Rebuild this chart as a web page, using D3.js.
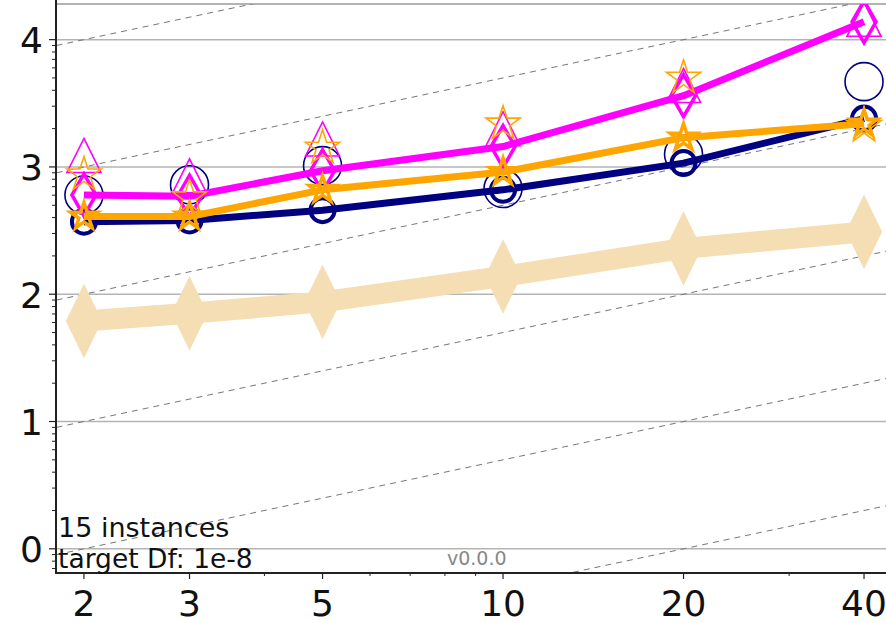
<!DOCTYPE html>
<html>
<head>
<meta charset="UTF-8" />
<script src="https://d3js.org/d3.v7.min.js"></script>
<style>
  body { margin: 0; background: #fff; }
  svg { display: block; font-family: "DejaVu Sans", sans-serif; }
</style>
</head>
<body>
<div id="chart"></div>
<script>
// dimensions on the x axis
const dims = [2, 3, 5, 10, 20, 40];
// log10(ERT / dim)
const navyLine    = [2.57, 2.58, 2.66, 2.82, 3.03, 3.38];
const navyLight   = [2.78, 2.86, 3.01, 2.83, 3.10, 3.67];
const orangeLine  = [2.61, 2.61, 2.82, 2.96, 3.23, 3.34];
const orangeLight = [2.94, 2.76, 3.15, 3.34, 3.70, 3.32];
const pinkLine    = [2.78, 2.77, 2.97, 3.16, 3.56, 4.14];
const pinkLight   = [3.09, 2.93, 3.22, 3.30, 3.64, 4.16];
const best2009    = [1.79, 1.85, 1.94, 2.14, 2.36, 2.49];

const yTicks = [0, 1, 2, 3, 4];
const xTicks = [2, 3, 5, 10, 20, 40];
const xMinor = [4, 6, 7, 8, 9, 30];
const refOffsets = [-1, 0, 1, 2, 3, 4]; // dashed lines ERT ~ dim^2 shifted by decades

const W = 886, H = 623;
const axLeft = 56, axBottom = 573, axTop = 4;

const x = d3.scaleLog().domain([1.8, 45]).range([56.5, 894.7]);
const y = d3.scaleLinear().domain([-0.19, 4.28]).range([axBottom, axTop]);

const svg = d3.select("#chart").append("svg")
  .attr("width", W).attr("height", H);

svg.append("clipPath").attr("id", "clip")
  .append("rect").attr("x", axLeft).attr("y", axTop)
  .attr("width", W - axLeft).attr("height", axBottom - axTop);

// grid
svg.append("g").selectAll("line").data(yTicks).join("line")
  .attr("x1", axLeft).attr("x2", W)
  .attr("y1", d => y(d)).attr("y2", d => y(d))
  .attr("stroke", "#b4b4b4").attr("stroke-width", 1.5);
svg.append("line").attr("x1", axLeft).attr("x2", W)
  .attr("y1", axTop).attr("y2", axTop)
  .attr("stroke", "#999").attr("stroke-width", 1.5);

const plot = svg.append("g").attr("clip-path", "url(#clip)");

// dashed reference lines
const refLine = d3.line().x(d => x(d[0])).y(d => y(d[1]));
plot.append("g").selectAll("path").data(refOffsets).join("path")
  .attr("d", k => refLine(x.domain().map(d => [d, k + Math.log10(d) - Math.log10(2)])))
  .attr("fill", "none").attr("stroke", "#777").attr("stroke-width", 1)
  .attr("stroke-dasharray", "6,5");

// marker shapes
function circle(r) {
  return `M${r},0A${r},${r} 0 1,1 ${-r},0A${r},${r} 0 1,1 ${r},0Z`;
}
function star(R) {
  const r = R * 0.382, pts = [];
  for (let i = 0; i < 10; i++) {
    const a = -Math.PI / 2 + i * Math.PI / 5, rr = i % 2 ? r : R;
    pts.push([rr * Math.cos(a), rr * Math.sin(a)]);
  }
  return "M" + pts.map(p => p.join(",")).join("L") + "Z";
}
function diamond(w, h) {
  return `M0,${-h}L${w},0L0,${h}L${-w},0Z`;
}
function triangle(s) {
  return `M0,${-s}L${s},${s}L${-s},${s}Z`;
}

const line = d3.line().x(d => x(d[0])).y(d => y(d[1]));

function series(vals, color, width, shape, fill, mw) {
  const pts = dims.map((d, i) => [d, vals[i]]);
  const g = plot.append("g");
  g.append("path").attr("d", line(pts))
    .attr("fill", "none").attr("stroke", color)
    .attr("stroke-width", width).attr("stroke-linejoin", "round");
  g.selectAll(".m").data(pts).join("path")
    .attr("transform", d => `translate(${x(d[0])},${y(d[1])})`)
    .attr("d", shape).attr("fill", fill)
    .attr("stroke", color).attr("stroke-width", mw);
}
function light(vals, color, shape) {
  plot.append("g").selectAll("path").data(dims.map((d, i) => [d, vals[i]])).join("path")
    .attr("transform", d => `translate(${x(d[0])},${y(d[1])})`)
    .attr("d", shape).attr("fill", "none")
    .attr("stroke", color).attr("stroke-width", 1.6);
}

series(best2009, "#f5deb3", 21, diamond(17, 35), "#f5deb3", 2);
light(navyLight, "#000080", circle(19));
series(navyLine, "#000080", 7, circle(12), "none", 4);
light(pinkLight, "#ff00ff", triangle(17));
series(pinkLine, "#ff00ff", 7, diamond(12, 21), "none", 3.5);
light(orangeLight, "#ffa500", star(18));
series(orangeLine, "#ffa500", 7, star(14), "none", 3.5);

// spines
svg.append("line").attr("x1", axLeft).attr("x2", axLeft).attr("y1", 0).attr("y2", axBottom + 1)
  .attr("stroke", "#222").attr("stroke-width", 2);
svg.append("line").attr("x1", axLeft - 1).attr("x2", W).attr("y1", axBottom).attr("y2", axBottom)
  .attr("stroke", "#222").attr("stroke-width", 2);

// y ticks
const yMinor = [];
for (let e = -1; e <= 4; e++)
  for (let k = 2; k <= 9; k++) {
    const v = e + Math.log10(k);
    if (v > y.domain()[0] && v < y.domain()[1]) yMinor.push(v);
  }
svg.append("g").selectAll("line").data(yMinor).join("line")
  .attr("x1", axLeft - 4).attr("x2", axLeft).attr("y1", d => y(d)).attr("y2", d => y(d))
  .attr("stroke", "#222").attr("stroke-width", 1);
svg.append("g").selectAll("line").data(yTicks).join("line")
  .attr("x1", axLeft - 7).attr("x2", axLeft).attr("y1", d => y(d)).attr("y2", d => y(d))
  .attr("stroke", "#222").attr("stroke-width", 1.2);
svg.append("g").selectAll("text").data(yTicks).join("text")
  .attr("x", 43).attr("y", d => y(d)).attr("dy", "0.37em")
  .attr("text-anchor", "end").attr("font-size", 36).attr("fill", "#111")
  .text(d => d);

// x ticks
svg.append("g").selectAll("line").data(xMinor).join("line")
  .attr("x1", d => x(d)).attr("x2", d => x(d)).attr("y1", axBottom).attr("y2", axBottom + 3)
  .attr("stroke", "#222").attr("stroke-width", 1);
svg.append("g").selectAll("line").data(xTicks).join("line")
  .attr("x1", d => x(d)).attr("x2", d => x(d)).attr("y1", axBottom).attr("y2", axBottom + 6)
  .attr("stroke", "#222").attr("stroke-width", 1.2);
svg.append("g").selectAll("text").data(xTicks).join("text")
  .attr("x", d => x(d)).attr("y", 616)
  .attr("text-anchor", "middle").attr("font-size", 36).attr("fill", "#111")
  .text(d => d);

// annotations
svg.append("text").attr("x", 58).attr("y", 537).attr("font-size", 27).attr("fill", "#111")
  .text("15 instances");
svg.append("text").attr("x", 58).attr("y", 568).attr("font-size", 26.5).attr("fill", "#111")
  .text("target Df: 1e-8");
svg.append("text").attr("x", 447).attr("y", 565).attr("font-size", 19).attr("fill", "#888")
  .text("v0.0.0");
</script>
</body>
</html>
